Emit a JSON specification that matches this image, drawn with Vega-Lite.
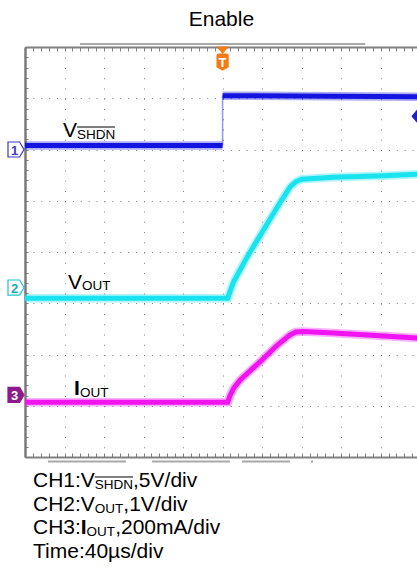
{
  "$schema": "https://vega.github.io/schema/vega-lite/v6.json",
  "width": 392,
  "height": 410,
  "autosize": {"type": "none"},
  "padding": {"left": 25, "top": 47, "right": 0, "bottom": 113},
  "background": "white",
  "config": {"view": {"stroke": null}},
  "datasets": {
    "traces": [
      {"ch": "CH1", "seg": "1a", "t": 0, "v": 6.08},
      {"ch": "CH1", "seg": "1a", "t": 5.0, "v": 6.08},
      {"ch": "CH1", "seg": "1b", "t": 5.0, "v": 7.05},
      {"ch": "CH1", "seg": "1b", "t": 9.95, "v": 7.03},
      {"ch": "CH1", "seg": "1e", "t": 5.0, "v": 6.08},
      {"ch": "CH1", "seg": "1e", "t": 5.0, "v": 7.05},
      {"ch": "CH2", "seg": "2", "t": 0, "v": 3.10},
      {"ch": "CH2", "seg": "2", "t": 5.13, "v": 3.10},
      {"ch": "CH2", "seg": "2", "t": 5.19, "v": 3.23},
      {"ch": "CH2", "seg": "2", "t": 5.28, "v": 3.42},
      {"ch": "CH2", "seg": "2", "t": 5.62, "v": 3.90},
      {"ch": "CH2", "seg": "2", "t": 6.13, "v": 4.55},
      {"ch": "CH2", "seg": "2", "t": 6.46, "v": 4.97},
      {"ch": "CH2", "seg": "2", "t": 6.71, "v": 5.27},
      {"ch": "CH2", "seg": "2", "t": 6.85, "v": 5.37},
      {"ch": "CH2", "seg": "2", "t": 7.00, "v": 5.42},
      {"ch": "CH2", "seg": "2", "t": 7.80, "v": 5.46},
      {"ch": "CH2", "seg": "2", "t": 9.06, "v": 5.49},
      {"ch": "CH2", "seg": "2", "t": 9.95, "v": 5.52},
      {"ch": "CH3", "seg": "3", "t": 0, "v": 1.07},
      {"ch": "CH3", "seg": "3", "t": 5.13, "v": 1.07},
      {"ch": "CH3", "seg": "3", "t": 5.19, "v": 1.20},
      {"ch": "CH3", "seg": "3", "t": 5.28, "v": 1.34},
      {"ch": "CH3", "seg": "3", "t": 5.44, "v": 1.50},
      {"ch": "CH3", "seg": "3", "t": 5.95, "v": 1.86},
      {"ch": "CH3", "seg": "3", "t": 6.38, "v": 2.18},
      {"ch": "CH3", "seg": "3", "t": 6.70, "v": 2.38},
      {"ch": "CH3", "seg": "3", "t": 6.85, "v": 2.44},
      {"ch": "CH3", "seg": "3", "t": 7.04, "v": 2.45},
      {"ch": "CH3", "seg": "3", "t": 7.80, "v": 2.42},
      {"ch": "CH3", "seg": "3", "t": 8.66, "v": 2.38},
      {"ch": "CH3", "seg": "3", "t": 9.95, "v": 2.32}
    ],
    "labels": [
      {"role": "title", "t": 4.97, "v": 8.41, "text": "Enable"},
      {"role": "main", "t": 0.962, "v": 6.244, "text": "V"},
      {"role": "sub", "t": 1.316, "v": 6.205, "text": "SHDN"},
      {"role": "main", "t": 1.089, "v": 3.278, "text": "V"},
      {"role": "sub", "t": 1.443, "v": 3.249, "text": "OUT"},
      {"role": "bold", "t": 1.241, "v": 1.21, "text": "I"},
      {"role": "sub", "t": 1.392, "v": 1.171, "text": "OUT"},
      {"role": "main", "t": 0.203, "v": -0.585, "text": "CH1:V"},
      {"role": "sub", "t": 1.767, "v": -0.634, "text": "SHDN"},
      {"role": "main", "t": 2.734, "v": -0.585, "text": ",5V/div"},
      {"role": "main", "t": 0.203, "v": -1.044, "text": "CH2:V"},
      {"role": "sub", "t": 1.767, "v": -1.093, "text": "OUT"},
      {"role": "main", "t": 2.489, "v": -1.044, "text": ",1V/div"},
      {"role": "main", "t": 0.203, "v": -1.502, "text": "CH3:"},
      {"role": "bold", "t": 1.413, "v": -1.502, "text": "I"},
      {"role": "sub", "t": 1.559, "v": -1.551, "text": "OUT"},
      {"role": "main", "t": 2.281, "v": -1.502, "text": ",200mA/div"},
      {"role": "main", "t": 0.203, "v": -1.961, "text": "Time:40µs/div"},
      {"role": "num", "t": -0.266, "v": 6.0, "text": "1", "key": "n1"},
      {"role": "num", "t": -0.266, "v": 3.307, "text": "2", "key": "n2"},
      {"role": "num", "t": -0.266, "v": 1.21, "text": "3", "key": "n3"},
      {"role": "num", "t": 5.0, "v": 7.707, "text": "T", "key": "T"}
    ],
    "overlines": [
      {"t": 1.316, "t2": 2.278, "v": 6.439},
      {"t": 1.767, "t2": 2.734, "v": -0.39}
    ],
    "markers": [
      {"shape": "tri", "key": "trig", "t": 5.0, "v": 7.94},
      {"shape": "shield", "key": "trig", "t": 5.0, "v": 7.707},
      {"shape": "pent", "key": "b1", "t": -0.228, "v": 6.0},
      {"shape": "pent", "key": "b2", "t": -0.228, "v": 3.307},
      {"shape": "pent", "key": "b3", "t": -0.228, "v": 1.21},
      {"shape": "lpent", "key": "lvl", "t": 9.95, "v": 6.65}
    ],
    "bars": [
      {"t": 1.392, "t2": 8.608, "v": 8.059},
      {"t": 0.582, "t2": 2.557, "v": -0.088},
      {"t": 3.215, "t2": 5.19, "v": -0.088},
      {"t": 5.494, "t2": 6.709, "v": -0.088},
      {"t": 7.24, "t2": 7.29, "v": -0.088}
    ]
  },
  "resolve": {"axis": {"x": "independent", "y": "independent"}},
  "layer": [
    {
      "data": {"name": "traces"},
      "transform": [{"filter": "datum.seg !== '1e'"}],
      "mark": {"type": "line", "strokeWidth": 8.5, "opacity": 0.35, "clip": true},
      "encoding": {
        "x": {"field": "t", "type": "quantitative", "scale": {"domain": [0, 9.92], "nice": false, "zero": false},
          "axis": {"orient": "bottom", "title": null, "labels": false,
            "values": [0,0.2,0.4,0.6,0.8,1,1.2,1.4,1.6,1.8,2,2.2,2.4,2.6,2.8,3,3.2,3.4,3.6,3.8,4,4.2,4.4,4.6,4.8,5,5.2,5.4,5.6,5.8,6,6.2,6.4,6.6,6.8,7,7.2,7.4,7.6,7.8,8,8.2,8.4,8.6,8.8,9,9.2,9.4,9.6,9.8],
            "domain": true, "domainColor": "#808080", "domainWidth": 2,
            "ticks": true, "tickSize": -4, "tickColor": "#808080", "tickWidth": 1,
            "grid": true, "gridDash": [1, 9.25], "gridColor": "#808080", "gridWidth": 1,
            "gridOpacity": {"condition": {"test": "datum.value % 1 === 0 && datum.value > 0", "value": 1}, "value": 0}}},
        "y": {"field": "v", "type": "quantitative", "scale": {"domain": [0, 8], "nice": false, "zero": false},
          "axis": {"orient": "left", "title": null, "labels": false,
            "values": [0,0.2,0.4,0.6,0.8,1,1.2,1.4,1.6,1.8,2,2.2,2.4,2.6,2.8,3,3.2,3.4,3.6,3.8,4,4.2,4.4,4.6,4.8,5,5.2,5.4,5.6,5.8,6,6.2,6.4,6.6,6.8,7,7.2,7.4,7.6,7.8,8],
            "domain": true, "domainColor": "#7a7a7a", "domainWidth": 2.5,
            "ticks": true, "tickSize": -3, "tickColor": "#808080", "tickWidth": 1,
            "grid": true, "gridDash": [1, 6.9], "gridColor": "#808080", "gridWidth": 1,
            "gridOpacity": {"condition": {"test": "datum.value % 1 === 0 && datum.value > 0.5 && datum.value < 7.5", "value": 1}, "value": 0}}},
        "color": {"field": "ch", "type": "nominal", "legend": null,
          "scale": {"domain": ["CH1", "CH2", "CH3"], "range": ["#1414e0", "#19e3ee", "#f014f0"]}},
        "detail": {"field": "seg"}
      }
    },
    {
      "data": {"name": "traces"},
      "transform": [{"filter": "datum.seg !== '1e'"}],
      "mark": {"type": "line", "strokeWidth": 5, "clip": true},
      "encoding": {
        "x": {"field": "t", "type": "quantitative", "scale": {"domain": [0, 9.92], "nice": false, "zero": false}, "axis": null},
        "y": {"field": "v", "type": "quantitative", "scale": {"domain": [0, 8], "nice": false, "zero": false}, "axis": null},
        "color": {"field": "ch", "type": "nominal", "legend": null,
          "scale": {"domain": ["CH1", "CH2", "CH3"], "range": ["#1414e0", "#19e3ee", "#f014f0"]}},
        "detail": {"field": "seg"}
      }
    },
    {
      "data": {"name": "traces"},
      "transform": [{"filter": "datum.seg === '1e'"}],
      "mark": {"type": "line", "strokeWidth": 1.5, "opacity": 0.45, "clip": true},
      "encoding": {
        "x": {"field": "t", "type": "quantitative", "scale": {"domain": [0, 9.92], "nice": false, "zero": false},
          "axis": {"orient": "top", "title": null, "labels": false,
            "values": [0,0.2,0.4,0.6,0.8,1,1.2,1.4,1.6,1.8,2,2.2,2.4,2.6,2.8,3,3.2,3.4,3.6,3.8,4,4.2,4.4,4.6,4.8,5,5.2,5.4,5.6,5.8,6,6.2,6.4,6.6,6.8,7,7.2,7.4,7.6,7.8,8,8.2,8.4,8.6,8.8,9,9.2,9.4,9.6,9.8],
            "domain": true, "domainColor": "#808080", "domainWidth": 2,
            "ticks": true, "tickSize": -4, "tickColor": "#808080", "tickWidth": 1, "grid": false}},
        "y": {"field": "v", "type": "quantitative", "scale": {"domain": [0, 8], "nice": false, "zero": false}, "axis": null},
        "color": {"field": "ch", "type": "nominal", "legend": null,
          "scale": {"domain": ["CH1", "CH2", "CH3"], "range": ["#1414e0", "#19e3ee", "#f014f0"]}},
        "detail": {"field": "seg"}
      }
    },
    {
      "data": {"name": "bars"},
      "mark": {"type": "rule", "color": "#a8a8a8", "strokeWidth": 2},
      "encoding": {
        "x": {"field": "t", "type": "quantitative", "scale": {"domain": [0, 9.92], "nice": false, "zero": false}, "axis": null},
        "x2": {"field": "t2"},
        "y": {"field": "v", "type": "quantitative", "scale": {"domain": [0, 8], "nice": false, "zero": false}, "axis": null}
      }
    },
    {
      "data": {"name": "markers"},
      "mark": {"type": "point", "filled": false, "size": 256, "strokeWidth": 1.2, "opacity": 1, "fillOpacity": 1},
      "encoding": {
        "x": {"field": "t", "type": "quantitative", "scale": {"domain": [0, 9.92], "nice": false, "zero": false}, "axis": null},
        "y": {"field": "v", "type": "quantitative", "scale": {"domain": [0, 8], "nice": false, "zero": false}, "axis": null},
        "shape": {"field": "shape", "type": "nominal", "legend": null,
          "scale": {"domain": ["tri", "shield", "pent", "lpent"],
            "range": ["M-0.62,-0.38L0.62,-0.38L0,0.38Z",
                      "M-0.69,-0.8Q-0.69,-1,-0.5,-1L0.5,-1Q0.69,-1,0.69,-0.8L0.69,0.6L0,1L-0.69,0.6Z",
                      "M-1,-0.94L0.45,-0.94L1,0L0.45,0.94L-1,0.94Z",
                      "M0.75,-0.7L-0.15,-0.7L-0.75,0L-0.15,0.7L0.75,0.7Z"]}},
        "fill": {"field": "key", "type": "nominal", "legend": null,
          "scale": {"domain": ["trig", "b1", "b2", "b3", "lvl", "n1", "n2", "n3", "T"],
            "range": ["#f27b13", "#ffffff", "#ffffff", "#8e1b8c", "#1f1fc4", "#3b3bc4", "#1fa9b3", "#ffffff", "#ffffff"]}},
        "stroke": {"field": "key", "type": "nominal", "legend": null,
          "scale": {"domain": ["trig", "b1", "b2", "b3", "lvl"],
            "range": ["#f27b13", "#3b3bc4", "#22c3cc", "#8e1b8c", "#1f1fc4"]}}
      }
    },
    {
      "data": {"name": "labels"},
      "transform": [{"filter": "datum.role === 'num'"}],
      "mark": {"type": "text", "font": "Liberation Sans", "fontSize": 13, "fontWeight": "bold", "align": "center", "baseline": "middle", "dy": 1},
      "encoding": {
        "x": {"field": "t", "type": "quantitative", "scale": {"domain": [0, 9.92], "nice": false, "zero": false}, "axis": null},
        "y": {"field": "v", "type": "quantitative", "scale": {"domain": [0, 8], "nice": false, "zero": false}, "axis": null},
        "text": {"field": "text"},
        "fill": {"field": "key", "type": "nominal", "legend": null,
          "scale": {"domain": ["trig", "b1", "b2", "b3", "lvl", "n1", "n2", "n3", "T"],
            "range": ["#f27b13", "#ffffff", "#ffffff", "#8e1b8c", "#1f1fc4", "#3b3bc4", "#1fa9b3", "#ffffff", "#ffffff"]}}
      }
    },
    {
      "data": {"name": "labels"},
      "transform": [{"filter": "datum.role === 'title'"}],
      "mark": {"type": "text", "font": "Liberation Sans", "fontSize": 21, "align": "center", "baseline": "alphabetic", "color": "black"},
      "encoding": {
        "x": {"field": "t", "type": "quantitative", "scale": {"domain": [0, 9.92], "nice": false, "zero": false}, "axis": null},
        "y": {"field": "v", "type": "quantitative", "scale": {"domain": [0, 8], "nice": false, "zero": false}, "axis": null},
        "text": {"field": "text"}
      }
    },
    {
      "data": {"name": "labels"},
      "transform": [{"filter": "datum.role === 'main'"}],
      "mark": {"type": "text", "font": "Liberation Sans", "fontSize": 21, "align": "left", "baseline": "alphabetic", "color": "black"},
      "encoding": {
        "x": {"field": "t", "type": "quantitative", "scale": {"domain": [0, 9.92], "nice": false, "zero": false}, "axis": null},
        "y": {"field": "v", "type": "quantitative", "scale": {"domain": [0, 8], "nice": false, "zero": false}, "axis": null},
        "text": {"field": "text"}
      }
    },
    {
      "data": {"name": "labels"},
      "transform": [{"filter": "datum.role === 'bold'"}],
      "mark": {"type": "text", "font": "Liberation Sans", "fontSize": 21, "fontWeight": "bold", "align": "left", "baseline": "alphabetic", "color": "black"},
      "encoding": {
        "x": {"field": "t", "type": "quantitative", "scale": {"domain": [0, 9.92], "nice": false, "zero": false}, "axis": null},
        "y": {"field": "v", "type": "quantitative", "scale": {"domain": [0, 8], "nice": false, "zero": false}, "axis": null},
        "text": {"field": "text"}
      }
    },
    {
      "data": {"name": "labels"},
      "transform": [{"filter": "datum.role === 'sub'"}],
      "mark": {"type": "text", "font": "Liberation Sans", "fontSize": 13.5, "align": "left", "baseline": "alphabetic", "color": "black"},
      "encoding": {
        "x": {"field": "t", "type": "quantitative", "scale": {"domain": [0, 9.92], "nice": false, "zero": false}, "axis": null},
        "y": {"field": "v", "type": "quantitative", "scale": {"domain": [0, 8], "nice": false, "zero": false}, "axis": null},
        "text": {"field": "text"}
      }
    },
    {
      "data": {"name": "overlines"},
      "mark": {"type": "rule", "color": "black", "strokeWidth": 1},
      "encoding": {
        "x": {"field": "t", "type": "quantitative", "scale": {"domain": [0, 9.92], "nice": false, "zero": false}, "axis": null},
        "x2": {"field": "t2"},
        "y": {"field": "v", "type": "quantitative", "scale": {"domain": [0, 8], "nice": false, "zero": false}, "axis": null}
      }
    }
  ]
}
